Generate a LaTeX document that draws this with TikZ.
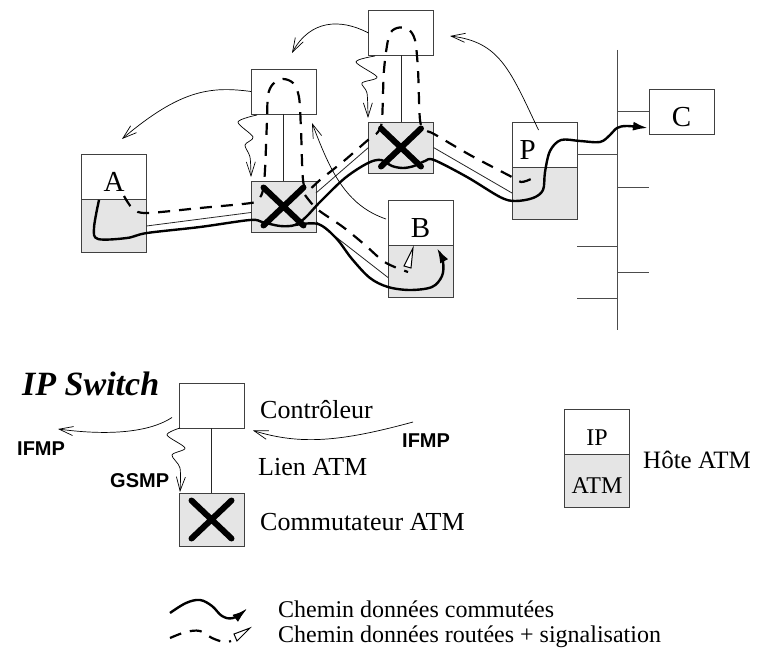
\documentclass[tikz,border=0pt]{standalone}
\usepackage{fontspec}
\setmainfont{Liberation Serif}
\setsansfont{Liberation Sans}
\usetikzlibrary{arrows.meta,calc,positioning}

\begin{document}
\begin{tikzpicture}[x=1pt,y=-1pt]
        \tikzstyle{box}=[draw=black!75,line width=0.8pt,inner sep=0pt,outer sep=0pt,minimum width=65pt,minimum height=45pt,text height=30pt,font=\fontsize{29}{32}\selectfont]
        \tikzstyle{atm}=[box,fill=black!10,minimum height=53pt]
        \tikzstyle{switchbox}=[atm,minimum height=51pt]
        \tikzstyle{link}=[draw=black!85,line width=0.8pt]
        \tikzstyle{bus}=[draw=black!70,line width=0.9pt]
        \tikzstyle{xmark}=[line width=6pt,line cap=round]
        \tikzstyle{switched}=[line width=2.4pt,-{Latex[length=15pt,width=9pt]}]
        \tikzstyle{routed}=[line width=2.2pt,dash pattern=on 12pt off 9pt]
        \tikzstyle{routedtip}=[line width=1pt,fill=white,line join=miter]
        \tikzstyle{signal}=[line width=0.7pt,-{Straight Barb[length=14pt,width=9pt]}]
        \tikzstyle{lbl}=[font=\fontsize{26}{30}\selectfont,anchor=base west,inner sep=0pt]
        \tikzstyle{proto}=[font=\fontsize{20}{24}\selectfont\sffamily\bfseries,anchor=base west,inner sep=0pt]
        \useasboundingbox (0,0) rectangle (760,663);

        % hosts
        \node [box] (hA) at (114,177) {A};
        \node [atm,below=0pt of hA] (hAatm) {};
        \node [box] (hB) at (420.5,223) {B};
        \node [atm,below=0pt of hB,minimum height=52pt] (hBatm) {};
        \node [box,text width=50pt,align=left] (hP) at (544.5,144.5) {P};
        \node [atm,below=0pt of hP,minimum height=52pt] (hPatm) {};
        \node [box] (hC) at (681.5,111.5) {C};

        % ip switches
        \node [box] (ct1) at (283.5,91.5) {};
        \node [switchbox] (sw1) at (283.5,206.5) {};
        \node [box] (ct2) at (401,33) {};
        \node [switchbox] (sw2) at (401,147.5) {};
        \path[link] (ct1) -- (sw1);
        \path[link] (ct2) -- (sw2);

        % bus
        \coordinate (bustop) at (617,50);
        \coordinate (busbot) at (617,330);
        \coordinate (pstub) at ($(hP.east)+(0,10)$);
        \path[bus] (bustop) -- (busbot);
        \path[bus] (hC.west) -- (hC.west -| bustop);
        \path[bus] (pstub) -- (pstub -| bustop);
        \foreach \y in {187,272} \path[bus] (617,\y) -- (649,\y);
        \foreach \y in {246,298} \path[bus] (577,\y) -- (617,\y);

        % legend boxes
        \node [box] (ctL) at (211.5,405.5) {};
        \node [switchbox,minimum height=53pt] (swL) at (211.5,519.5) {};
        \path[link] (ctL) -- (swL);
        \node [box,font=\fontsize{24}{28}\selectfont,text height=28pt] (hL) at (597,431.5) {IP};
        \node [atm,below=0pt of hL,font=\fontsize{24}{28}\selectfont,text height=26pt] (hLatm) {ATM};

        % crosses
        \foreach \s in {sw1,sw2,swL}
                \draw[xmark] ($(\s)+(-20,-19)$) -- ($(\s)+(20,19)$) ($(\s)+(20,-19)$) -- ($(\s)+(-20,19)$);

        % atm links
        \path[link] (hAatm.east) -- ($(sw1.west)+(0,6)$);
        \path[link] ($(sw1.north east)+(0,12)$) -- (sw2.west);
        \path[link] (sw2.east) -- (hPatm.west);
        \path[link] ($(sw1.east)+(0,15)$) -- ($(hBatm.west)+(0,6)$);

        % switched data
        \draw[switched] plot[smooth,tension=0.55] coordinates {(99,200) (94,228) (98,239) (127,238) (147,233) (200,227) (250,220) (262,222) (280,226) (295,225) (306,217) (320,202) (345,178) (368,163) (381,160) (392,166) (403,168) (414,166) (425,161) (434,160) (467,177) (500,197) (515,201) (533,198) (543,190) (545,172) (550,151) (561,140) (580,141) (600,142) (610,135) (617,128) (627,126) (648,128)};
        \draw[switched] plot[smooth,tension=0.55] coordinates {(295,225) (318,224) (336,238) (352,259) (370,278) (388,287) (410,290) (432,287) (442,276) (443,262) (437,248)};

        % routed data + signalling
        \draw[routed] plot[smooth,tension=0.5] coordinates {(124,196) (133,209) (147,213) (200,208) (251,203) (259,199) (263,190) (265,170) (267,120) (268,95) (273,84) (283,79) (293,83) (299,97) (301,130) (303,180) (308,190) (320,180) (345,160) (368,140) (378,132) (382,120) (384,70) (389,36) (397,28) (408,29) (415,40) (418,70) (420,120) (425,130) (434,134) (470,155) (510,176) (521,182) (531,179)};
        \draw[routed] plot[smooth,tension=0.5] coordinates {(305,195) (317,209) (343,227) (365,245) (383,261) (397,268) (408,272)};
        \draw[routedtip] (404,266) -- (413,248) -- (411,268) -- cycle;

        % gsmp
        \draw[signal] plot[smooth] coordinates {(257,115) (238,122) (253,137) (245,145) (250,157) (251,177)};
        \draw[signal] plot[smooth] coordinates {(375,56) (356,62) (377,77) (362,83) (367,93) (368,118)};
        \draw[signal] plot[smooth] coordinates {(180,428) (167,435) (185,448) (172,455) (180,468) (180,492)};

        % ifmp
        \draw[signal] (ct2.west) .. controls (340,18) and (310,20) .. (292,53);
        \draw[signal] (ct1.west) .. controls (210,86) and (180,90) .. (122,139);
        \draw[signal] ($(hP.north)+(-6,8)$) .. controls (510,70) and (500,42) .. (450,36);
        \draw[signal] ($(hB.west)+(-2,-4)$) .. controls (345,205) and (330,170) .. (312,123);
        \draw[signal] ($(ctL.west)+(-7,12)$) .. controls (150,432) and (110,436) .. (58,429);
        \draw[signal] (413,422) .. controls (340,442) and (300,445) .. ($(ctL.east)+(9,25)$);

        % legend texts
        \node [font=\fontsize{34}{38}\selectfont\bfseries\itshape,anchor=base west,inner sep=0pt] (title) at (22,395) {IP Switch};
        \node [lbl] (tctl) at (260,418) {Contrôleur};
        \node [lbl] (tlink) at (258,475) {Lien ATM};
        \node [lbl] (tsw) at (260,530) {Commutateur ATM};
        \node [lbl,font=\fontsize{25}{29}\selectfont] (thost) at (643,468) {Hôte ATM};
        \node [proto] (tifmpa) at (17,455) {IFMP};
        \node [proto] (tgsmp) at (110,487) {GSMP};
        \node [proto] (tifmpb) at (402,447) {IFMP};

        % path legend
        \draw[switched] plot[smooth,tension=0.6] coordinates {(170,613) (186,603) (200,600) (212,606) (222,616) (233,618) (247,609)};
        \draw[routed] plot[smooth,tension=0.6] coordinates {(170,638) (186,632) (200,631) (212,638) (224,642) (231,641)};
        \draw[routedtip] (234,634) -- (250,628) -- (237,641) -- cycle;
        \node [lbl,font=\fontsize{24}{28}\selectfont] (tcomm) at (278,617) {Chemin données commutées};
        \node [lbl,font=\fontsize{24}{28}\selectfont] (trout) at (278,642) {Chemin données routées + signalisation};
\end{tikzpicture}
\end{document}
